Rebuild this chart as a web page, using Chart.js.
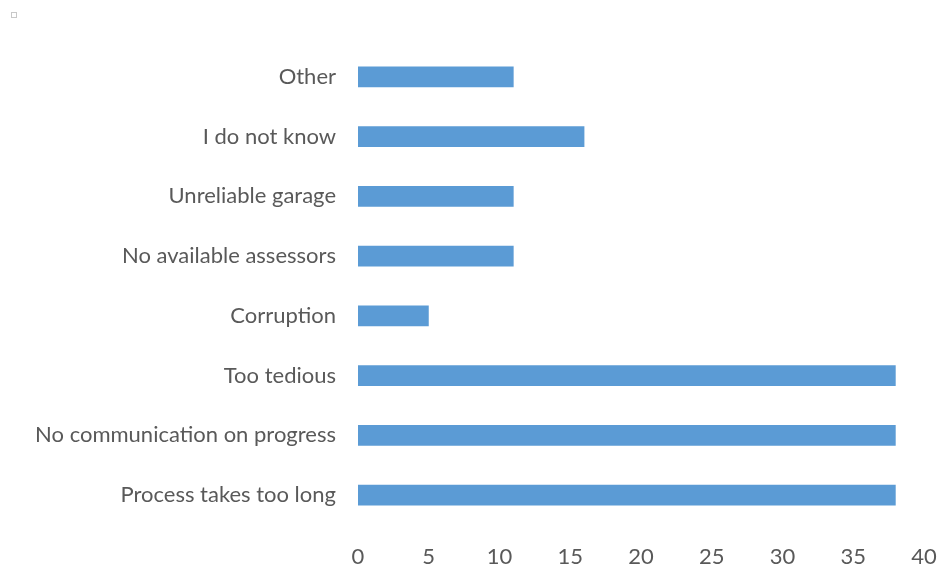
<!DOCTYPE html>
<html>
<head>
<meta charset="utf-8">
<script src="https://cdn.jsdelivr.net/npm/chart.js@4/dist/chart.umd.min.js"></script>
<style>
  html, body { margin: 0; padding: 0; background: #fff; }
</style>
</head>
<body>
<canvas id="chart" width="939" height="568"></canvas>
<script>
const reasons = [
  "Other",
  "I do not know",
  "Unreliable garage",
  "No available assessors",
  "Corruption",
  "Too tedious",
  "No communication on progress",
  "Process takes too long"
];
const counts = [11, 16, 11, 11, 5, 38, 38, 38];
const xTicks = [0, 5, 10, 15, 20, 25, 30, 35, 40];

const textGrey = "#595959";

// little legend-key box in the corner
const cornerBox = {
  id: "cornerBox",
  afterDraw(chart) {
    const c = chart.ctx;
    c.save();
    c.strokeStyle = "#c8c8c8";
    c.lineWidth = 1;
    c.strokeRect(11.5, 12.5, 5, 5);
    c.restore();
  }
};

new Chart(document.getElementById("chart"), {
  type: "bar",
  data: {
    labels: reasons,
    datasets: [{
      data: counts,
      backgroundColor: "#5B9BD5",
      borderWidth: 0,
      barPercentage: 0.35,
      categoryPercentage: 1
    }]
  },
  options: {
    indexAxis: "y",
    responsive: false,
    animation: false,
    layout: { padding: { top: 47, right: 0, left: 0, bottom: 0 } },
    plugins: { legend: { display: false }, tooltip: { enabled: false } },
    scales: {
      x: {
        min: 0,
        max: 40,
        afterBuildTicks(axis) { axis.ticks = xTicks.map(v => ({ value: v })); },
        afterFit(axis) {
          axis.height = 43;
          axis.paddingRight = 15;
        },
        grid: { display: false },
        border: { display: false },
        ticks: {
          color: textGrey,
          padding: 11,
          font: { family: "Lato", size: 22 }
        }
      },
      y: {
        afterFit(axis) { axis.width = 358; },
        grid: { display: false },
        border: { display: false },
        ticks: {
          color: textGrey,
          padding: 14,
          font: { family: "Lato", size: 22 }
        }
      }
    }
  },
  plugins: [cornerBox]
});
</script>
</body>
</html>
